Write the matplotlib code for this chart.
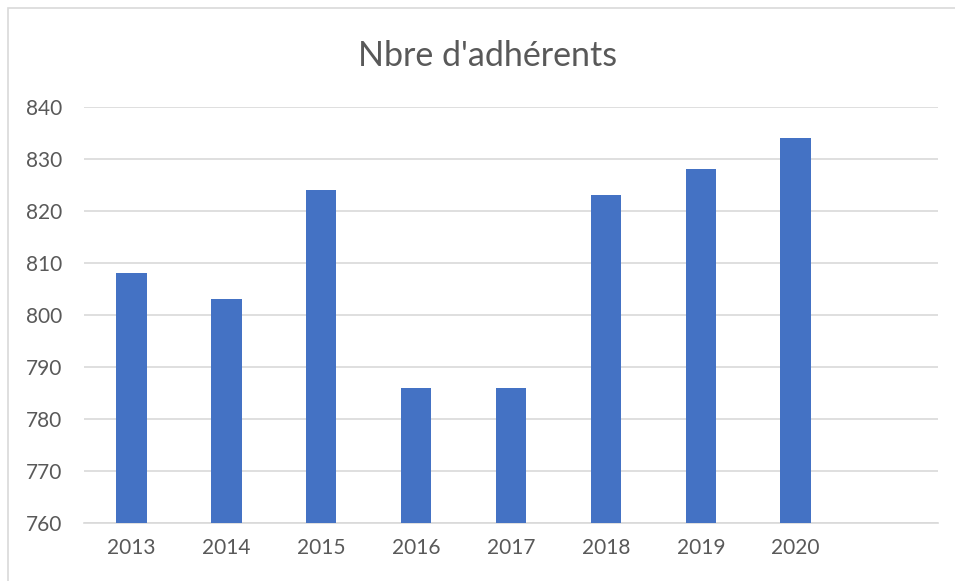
import matplotlib.pyplot as plt
from matplotlib.patches import Rectangle

plt.rcParams['font.family'] = ['Lato', 'DejaVu Sans']

years = ['2013', '2014', '2015', '2016', '2017', '2018', '2019', '2020', '']
members = [808, 803, 824, 786, 786, 823, 828, 834, None]

W, H = 955, 581
fig = plt.figure(figsize=(W / 100, H / 100), dpi=100)

# chart frame (only left and top edges visible in the reference)
fig.patches.append(Rectangle((8 / W, -0.1), 1.2, 1.1 - 8 / H, transform=fig.transFigure,
                             fill=False, edgecolor='#d9d9d9', linewidth=1.2))

ax = fig.add_axes([84 / W, 1 - 523 / H, (938 - 84) / W, (523 - 107) / H])

x = list(range(len(years)))
vals = [v if v is not None else 0 for v in members]
ax.bar(x, vals, width=0.32, color='#4472c4', zorder=3)

ax.set_ylim(760, 840)
ax.set_xlim(-0.5, len(years) - 0.5)
ax.set_yticks(range(760, 841, 10))
ax.set_xticks(x)
ax.set_xticklabels(years)
ax.grid(axis='y', color='#d9d9d9', linewidth=1.2, zorder=0)
for s in ['top', 'right', 'left']:
    ax.spines[s].set_visible(False)
ax.spines['bottom'].set_color('#d9d9d9')
ax.spines['bottom'].set_linewidth(1.2)
ax.tick_params(length=0, labelsize=15, colors='#595959')
ax.tick_params(axis='y', pad=16)
ax.tick_params(axis='x', pad=11)

fig.text(488 / W, 1 - 56 / H, "Nbre d'adhérents", ha='center', va='center',
         fontsize=24.5, color='#595959')

fig.savefig('out.png', dpi=100)
